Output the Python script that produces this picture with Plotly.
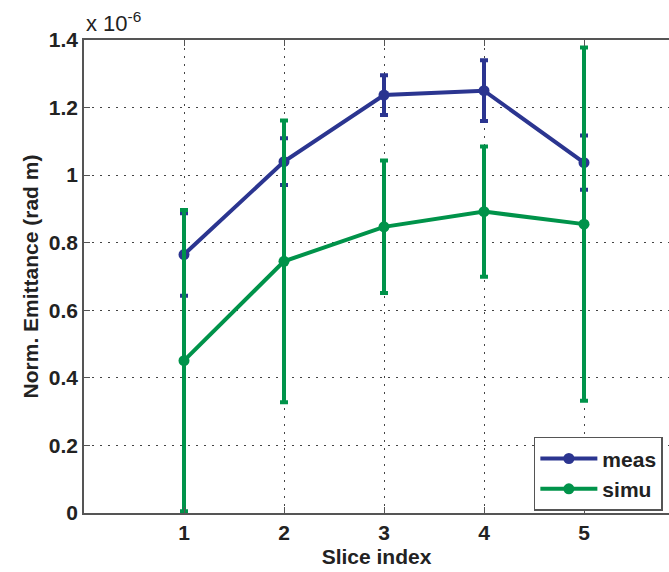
import plotly.graph_objects as go

# Normalized emittance per slice, in units of 1e-6 rad m
slices = [1, 2, 3, 4, 5]
meas_vals = [0.765, 1.040, 1.237, 1.250, 1.037]
meas_err = [0.122, 0.069, 0.059, 0.090, 0.080]
simu_vals = [0.451, 0.745, 0.847, 0.892, 0.855]
simu_err = [0.446, 0.417, 0.196, 0.193, 0.523]

x_ticks = [1, 2, 3, 4, 5]
y_ticks = [0, 0.2, 0.4, 0.6, 0.8, 1.0, 1.2, 1.4]

BLUE = "#2b3590"
GREEN = "#00934a"
AXIS = "#555555"
GRID = "#444444"
FONT = "Liberation Sans, Arial, sans-serif"

fig = go.Figure()

for name, vals, err, color in [
    ("meas", meas_vals, meas_err, BLUE),
    ("simu", simu_vals, simu_err, GREEN),
]:
    fig.add_trace(go.Scatter(
        x=slices, y=vals, name=name, mode="lines+markers",
        line=dict(color=color, width=4),
        marker=dict(color=color, size=11, symbol="circle"),
        error_y=dict(type="data", array=err, visible=True,
                     color=color, thickness=4, width=4),
        cliponaxis=False,
    ))

fig.update_layout(
    width=669, height=572,
    margin=dict(l=84, r=0, t=40, b=59),
    paper_bgcolor="white", plot_bgcolor="white",
    font=dict(family=FONT, size=21, color="#222222"),
    showlegend=True,
    legend=dict(
        x=0.769, y=0.161, xanchor="left", yanchor="top",
        bgcolor="white", bordercolor=AXIS, borderwidth=1.5,
        font=dict(family=FONT, size=21, weight="bold", color="#222222"),
        itemwidth=57, tracegroupgap=0,
    ),
    xaxis=dict(
        range=[0, 5.85], tickvals=x_ticks,
        showline=True, linecolor=AXIS, linewidth=1.5, mirror="ticks",
        ticks="inside", ticklen=6, tickcolor=AXIS, tickwidth=1,
        showgrid=True, gridcolor=GRID, gridwidth=1, griddash="2px,6px",
        zeroline=False,
        tickfont=dict(family=FONT, size=21, weight="bold"),
        title=dict(text="Slice index", standoff=6,
                   font=dict(family=FONT, size=21, weight="bold")),
    ),
    yaxis=dict(
        range=[0, 1.4], tickvals=y_ticks,
        showline=True, linecolor=AXIS, linewidth=1.5, mirror=False,
        ticks="inside", ticklen=6, tickcolor=AXIS, tickwidth=1,
        showgrid=True, gridcolor=GRID, gridwidth=1, griddash="2px,6px",
        zeroline=False,
        tickfont=dict(family=FONT, size=21, weight="bold"),
        title=dict(text="Norm. Emittance (rad m)", standoff=4,
                   font=dict(family=FONT, size=21, weight="bold")),
    ),
    annotations=[dict(
        text="x 10<sup>-6</sup>", xref="paper", yref="paper",
        x=0, y=1, xanchor="left", yanchor="bottom", yshift=2,
        showarrow=False, font=dict(family=FONT, size=22, color="#222222"),
    )],
)

fig.write_html("out.html")
